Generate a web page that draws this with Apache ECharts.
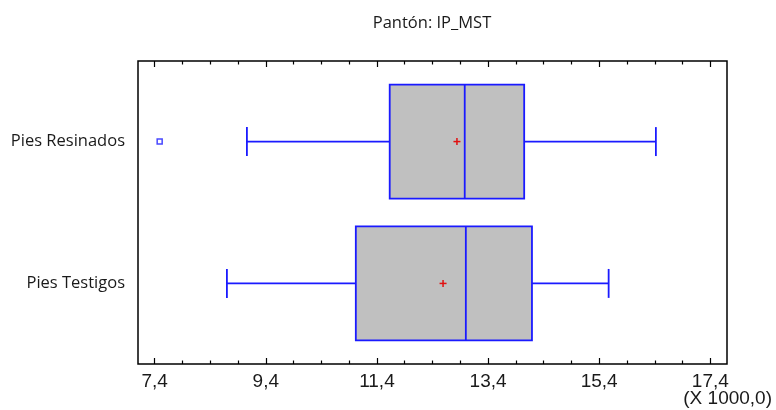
<!DOCTYPE html>
<html>
<head>
<meta charset="utf-8">
<script src="https://cdn.jsdelivr.net/npm/echarts@6/dist/echarts.min.js"></script>
<style>
  html, body { margin: 0; padding: 0; background: #fff; }
  #box_ref { width: 776px; height: 410px; }
</style>
</head>
<body>
<div id="box_ref"></div>
<script>
// datos en miles (X 1000,0)
const categories = ['Pies Resinados', 'Pies Testigos']
const whiskerLow = [9.06, 8.70]
const q1 = [11.63, 11.02]
const median = [12.98, 13.00]
const q3 = [14.05, 14.19]
const whiskerHigh = [16.42, 15.57]
const means = [12.84, 12.59]
const outlierValues = [7.49]
const outlierCategory = [0]

const majorTicks = [7.4, 9.4, 11.4, 13.4, 15.4, 17.4]
const minorTicks = [7.9, 8.4, 8.9, 9.9, 10.4, 10.9, 11.9, 12.4, 12.9,
  13.9, 14.4, 14.9, 15.9, 16.4, 16.9]

const BLUE = '#1a1aff'
const xMin = 7.1
const xMax = 17.7

const boxData = categories.map((c, i) =>
  [i, whiskerLow[i], q1[i], median[i], q3[i], whiskerHigh[i], means[i]])
const outlierData = outlierValues.map((v, k) => [v, outlierCategory[k]])

const renderBox = (params, api) => {
  const i = api.value(0)
  const unit = api.size([0, 1])[1]
  const hb = unit * 0.402
  const hc = unit * 0.102
  const pLow = api.coord([api.value(1), i])
  const pQ1 = api.coord([api.value(2), i])
  const pMed = api.coord([api.value(3), i])
  const pQ3 = api.coord([api.value(4), i])
  const pHigh = api.coord([api.value(5), i])
  const pMean = api.coord([api.value(6), i])
  const cy = pQ1[1]
  const line = { stroke: BLUE, lineWidth: 1.8 }
  return {
    type: 'group',
    children: [
      { type: 'line', shape: { x1: pLow[0], y1: cy, x2: pQ1[0], y2: cy }, style: line },
      { type: 'line', shape: { x1: pQ3[0], y1: cy, x2: pHigh[0], y2: cy }, style: line },
      { type: 'line', shape: { x1: pLow[0], y1: cy - hc, x2: pLow[0], y2: cy + hc }, style: line },
      { type: 'line', shape: { x1: pHigh[0], y1: cy - hc, x2: pHigh[0], y2: cy + hc }, style: line },
      { type: 'rect', shape: { x: pQ1[0], y: cy - hb, width: pQ3[0] - pQ1[0], height: hb * 2 },
        style: { fill: '#c0c0c0', stroke: BLUE, lineWidth: 1.8 } },
      { type: 'line', shape: { x1: pMed[0], y1: cy - hb, x2: pMed[0], y2: cy + hb }, style: line },
      { type: 'line', shape: { x1: pMean[0] - 3.5, y1: cy, x2: pMean[0] + 3.5, y2: cy },
        style: { stroke: '#e01010', lineWidth: 1.5 } },
      { type: 'line', shape: { x1: pMean[0], y1: cy - 3.5, x2: pMean[0], y2: cy + 3.5 },
        style: { stroke: '#e01010', lineWidth: 1.5 } }
    ]
  }
}

const tickAxis = (pos, ticks, len, withLabels) => ({
  type: 'value',
  position: pos,
  min: xMin,
  max: xMax,
  axisLine: { show: false, onZero: false },
  splitLine: { show: false },
  axisTick: {
    show: true,
    inside: true,
    length: len,
    customValues: ticks,
    lineStyle: { color: '#000', width: 1.2 }
  },
  axisLabel: withLabels ? {
    show: true,
    customValues: ticks,
    formatter: v => v.toFixed(1).replace('.', ','),
    fontFamily: 'Liberation Sans',
    fontSize: 19,
    color: '#1a1a1a',
    margin: 8
  } : { show: false }
})

const myChart = echarts.init(document.getElementById('box_ref'))

const option = {
  animation: false,
  backgroundColor: '#fff',
  grid: {
    left: 138, right: 49, top: 61, bottom: 46,
    show: true, borderColor: '#000', borderWidth: 1.5, backgroundColor: 'transparent'
  },
  graphic: [
    { type: 'text', x: 432, y: 23,
      style: { text: 'Pantón: IP_MST', align: 'center', verticalAlign: 'middle',
        font: '16.5px "Open Sans"', fill: '#1a1a1a' } },
    { type: 'text', x: 772, y: 389,
      style: { text: '(X 1000,0)', align: 'right', verticalAlign: 'top',
        font: '19px "Liberation Sans"', fill: '#1a1a1a' } }
  ],
  xAxis: [
    tickAxis('bottom', majorTicks, 6, true),
    tickAxis('bottom', minorTicks, 3.5, false),
    tickAxis('top', majorTicks, 6, false),
    tickAxis('top', minorTicks, 3.5, false)
  ],
  yAxis: {
    type: 'value',
    inverse: true,
    min: -0.568,
    max: 1.568,
    axisLine: { show: false, onZero: false },
    axisTick: { show: false },
    splitLine: { show: false },
    axisLabel: {
      customValues: [0, 1],
      formatter: v => categories[v],
      fontFamily: 'Open Sans',
      fontSize: 16.5,
      color: '#1a1a1a',
      padding: [3, 0, 0, 0],
      margin: 13
    }
  },
  series: [
    {
      type: 'custom',
      xAxisIndex: 0,
      renderItem: renderBox,
      encode: { x: [1, 2, 3, 4, 5, 6], y: 0 },
      data: boxData
    },
    {
      type: 'scatter',
      xAxisIndex: 0,
      symbol: 'rect',
      symbolSize: 5,
      itemStyle: { color: '#fff', borderColor: BLUE, borderWidth: 1.5 },
      data: outlierData
    }
  ]
}

option && myChart.setOption(option)
</script>
</body>
</html>
